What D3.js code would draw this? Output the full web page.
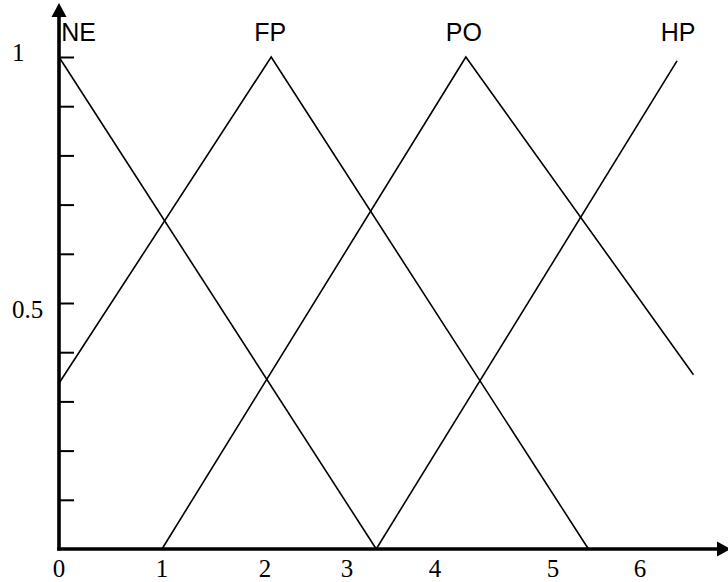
<!DOCTYPE html>
<html>
<head>
<meta charset="utf-8">
<script src="https://cdn.jsdelivr.net/npm/d3@7"></script>
<style>
  html, body { margin: 0; padding: 0; background: #fff; }
  svg { display: block; }
</style>
</head>
<body>
<svg id="chart" width="728" height="582"></svg>
<script>
// ---- data ----
const seriesNames = ["NE", "FP", "PO", "HP"];
const NE = [[0, 1], [3.08, 0]];
const FP = [[0, 0.337], [2.06, 1], [5.14, 0]];
const PO = [[1.0, 0], [3.95, 1], [6.16, 0.354]];
const HP = [[3.08, 0], [6.0, 0.992]];
const seriesLabelX = [0.19, 2.05, 3.93, 6.01];
const seriesLabelY = 1.033;

const xTickLabels = ["0", "1", "2", "3", "4", "5", "6"];
const xTickLabelPos = [0, 1, 2, 2.796, 3.65, 4.796, 5.64];
const yTickValues = [0.1, 0.2, 0.3, 0.4, 0.5, 0.6, 0.7, 0.8, 0.9, 1.0];
const yTickLabels = ["1", "0.5"];
const yTickLabelPos = [1.01, 0.487];

// ---- drawing ----
const svg = d3.select("#chart");
const x = d3.scaleLinear().domain([0, 6.5]).range([59, 59 + 6.5 * 103]);
const y = d3.scaleLinear().domain([0, 1]).range([549, 57]);

const allSeries = [NE, FP, PO, HP];
const line = d3.line().x(d => x(d[0])).y(d => y(d[1]));

// y ticks (drawn via axis)
const yAxis = d3.axisRight(y).tickValues(yTickValues).tickSize(15).tickFormat("");
const gy = svg.append("g").attr("transform", `translate(${x(0)},0)`).call(yAxis);
gy.select(".domain").remove();
gy.selectAll(".tick line").attr("stroke", "#000").attr("stroke-width", 2);

// membership lines
svg.append("g").selectAll("path").data(allSeries).join("path")
  .attr("d", line)
  .attr("fill", "none")
  .attr("stroke", "#000")
  .attr("stroke-width", 1.6);

// axes lines with arrows
const x0 = x(0), y0 = y(0);
svg.append("line").attr("x1", x0).attr("y1", y0 + 1.5).attr("x2", x0).attr("y2", 16)
  .attr("stroke", "#000").attr("stroke-width", 3.6);
svg.append("path").attr("d", `M${x0},3 L${x0 - 7.5},17 L${x0 + 7.5},17 Z`).attr("fill", "#000");
svg.append("line").attr("x1", x0 - 1.8).attr("y1", y0).attr("x2", 719).attr("y2", y0)
  .attr("stroke", "#000").attr("stroke-width", 3.6);
svg.append("path").attr("d", `M731,${y0} L717,${y0 - 7.5} L717,${y0 + 7.5} Z`).attr("fill", "#000");

// x tick labels
svg.append("g").selectAll("text").data(xTickLabels).join("text")
  .attr("x", (d, i) => x(xTickLabelPos[i]))
  .attr("y", y0 + 28)
  .attr("text-anchor", "middle")
  .attr("font-family", "'Liberation Serif', 'Times New Roman', serif")
  .attr("font-size", 25)
  .text(d => d);

// y tick labels
svg.append("g").selectAll("text").data(yTickLabels).join("text")
  .attr("x", 12)
  .attr("y", (d, i) => y(yTickLabelPos[i]))
  .attr("dy", "0.35em")
  .attr("text-anchor", "start")
  .attr("font-family", "'Liberation Serif', 'Times New Roman', serif")
  .attr("font-size", 25)
  .text(d => d);

// series labels
svg.append("g").selectAll("text").data(seriesNames).join("text")
  .attr("x", (d, i) => x(seriesLabelX[i]))
  .attr("y", y(seriesLabelY))
  .attr("text-anchor", "middle")
  .attr("font-family", "'Liberation Sans', Arial, sans-serif")
  .attr("font-size", 25)
  .text(d => d);
</script>
</body>
</html>
